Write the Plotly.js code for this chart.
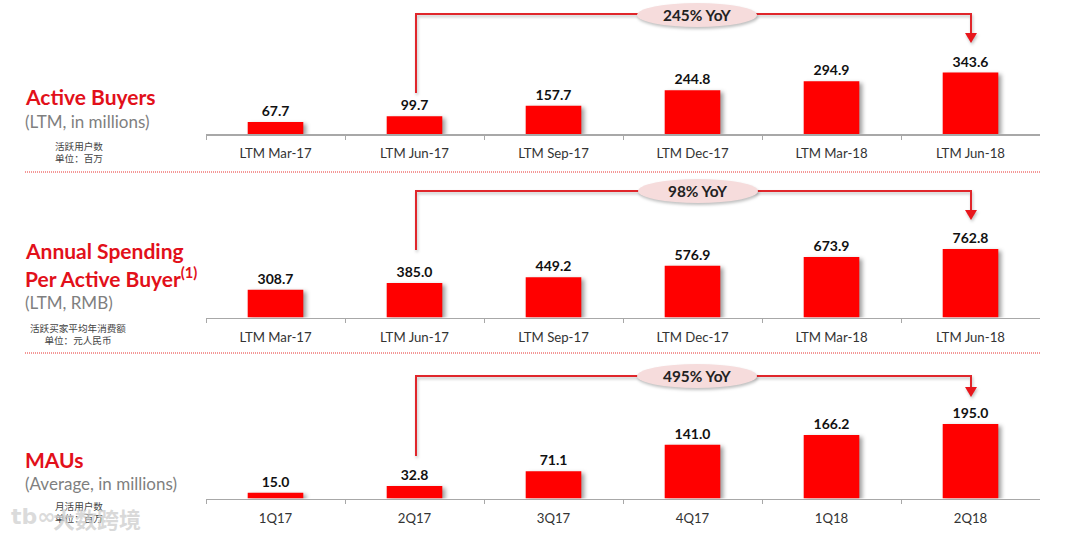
<!DOCTYPE html>
<html><head><meta charset="utf-8">
<script src="https://cdn.plot.ly/plotly-3.0.1.min.js"></script>
<style>
html,body{margin:0;padding:0;background:#fff}
#c{width:1080px;height:538px}
.bars .point path{filter:drop-shadow(3px 2px 2px rgba(0,0,0,.38))}
.shapelayer path:not([style*="dasharray"]){filter:drop-shadow(1px 2px 1.5px rgba(0,0,0,.25))}
</style></head><body><div id="c"></div>
<script>
const ltmLabels=["LTM Mar-17","LTM Jun-17","LTM Sep-17","LTM Dec-17","LTM Mar-18","LTM Jun-18"];
const quarterLabels=["1Q17","2Q17","3Q17","4Q17","1Q18","2Q18"];
const activeBuyers=[67.7,99.7,157.7,244.8,294.9,343.6];
const annualSpending=[308.7,385.0,449.2,576.9,673.9,762.8];
const maus=[15.0,32.8,71.1,141.0,166.2,195.0];
const yoyLabels=["245% YoY","98% YoY","495% YoY"];

const W=1080,H=538,px=x=>x/W,py=y=>1-y/H;
const RED="#ff0000",LINE="#e0262b";
function bar(x,y,n){return {type:'bar',x,y,xaxis:'x'+n,yaxis:'y'+n,width:0.4,
  marker:{color:RED,line:{width:0}},text:y.map(v=>v.toFixed(1)),textposition:'outside',cliponaxis:false,
  textfont:{family:'Lato, sans-serif',size:14,color:'#111',weight:700},hoverinfo:'skip'};}
const data=[bar(ltmLabels,activeBuyers,''),bar(ltmLabels,annualSpending,'2'),bar(quarterLabels,maus,'3')];
function xa(anchor){return {domain:[px(206),px(1040)],anchor,type:'category',showgrid:false,zeroline:false,
  showline:true,linecolor:'#a8a8a8',linewidth:1.5,ticks:'outside',tickson:'boundaries',ticklen:4,tickcolor:'#a8a8a8',tickwidth:1,
  tickfont:{family:'Lato, sans-serif',size:13.2,color:'#333'},ticklabelstandoff:7,fixedrange:true};}
function ya(base,top,scale,anchor){return {domain:[py(base),py(top)],range:[0,(base-top)/scale],visible:false,anchor,fixedrange:true};}
function connector(startY,topY,tipY,cy,cx){
  const s=[];
  s.push({type:'path',xref:'paper',yref:'paper',path:`M${px(416)},${py(startY)} L${px(416)},${py(topY)} L${px(971)},${py(topY)} L${px(971)},${py(tipY-9)}`,line:{color:LINE,width:2},fillcolor:'rgba(0,0,0,0)'});
  s.push({type:'path',xref:'paper',yref:'paper',path:`M${px(965)},${py(tipY-10)} L${px(977)},${py(tipY-10)} L${px(971)},${py(tipY)} Z`,fillcolor:'#e8161c',line:{width:0}});
  s.push({type:'circle',xref:'paper',yref:'paper',x0:px(cx-60),x1:px(cx+60),y0:py(cy+12),y1:py(cy-12),fillcolor:'#f6dcdc',line:{width:0}});
  return s;
}
function ann(x,y,text,size,color,family,align){return {xref:'paper',yref:'paper',x:px(x-2.5),y:py(y),text,showarrow:false,xanchor:'left',yanchor:'middle',align:align||'left',
  font:{family:family||'Lato, sans-serif',size,color}};}
const TITLE='#e2101a',SUB='#7f7f7f',CN='Noto Sans CJK SC, sans-serif',CC='#444';
const annotations=[
 ann(25,96,'<b>Active Buyers</b>',21,TITLE),
 ann(25,121,'(LTM, in millions)',17,SUB),
 ann(55,152,'活跃用户数<br>单位：百万',9.6,CC,CN),
 ann(25,250,'<b>Annual Spending</b>',21,TITLE),
 ann(25,277,'<b>Per Active Buyer<sup>(1)</sup></b>',21,TITLE),
 ann(25,302,'(LTM, RMB)',17,SUB),
 ann(30,334,'活跃买家平均年消费额<br>单位：元人民币',9.6,CC,CN,'center'),
 ann(25,459,'<b>MAUs</b>',21,TITLE),
 ann(25,483,'(Average, in millions)',17,SUB),
 ann(55,512,'月活用户数<br>单位：百万',9.6,CC,CN),
 ann(53,518,'<b>大数跨境</b>',22,'rgba(205,205,205,.75)',CN),
 ann(11,516,'<b>tb∞</b>',22,'rgba(210,210,210,.8)','DejaVu Sans'),
];
[[697,15,0],[698,191,1],[697,376,2]].forEach(([x,y,i])=>annotations.push(Object.assign(ann(x,y,'<b>'+yoyLabels[i]+'</b>',15.4,'#222'),{x:px(x),xanchor:'center'})));
const shapes=[
 ...connector(93,14,43,15,697),
 ...connector(250,191,220,191,698),
 ...connector(456,376,397,376,697),
 {type:'line',xref:'paper',yref:'paper',x0:px(25),x1:px(1040),y0:py(172),y1:py(172),line:{color:'#e8302f',width:1,dash:'1px,1px'}},
 {type:'line',xref:'paper',yref:'paper',x0:px(25),x1:px(1040),y0:py(353),y1:py(353),line:{color:'#e8302f',width:1,dash:'1px,1px'}},
];
const layout={width:W,height:H,margin:{l:0,r:0,t:0,b:0},paper_bgcolor:'#fff',plot_bgcolor:'#fff',showlegend:false,
 xaxis:xa('y'),yaxis:ya(134,60,61.5/343.6,'x'),
 xaxis2:xa('y2'),yaxis2:ya(317.5,240,68.5/762.8,'x2'),
 xaxis3:xa('y3'),yaxis3:ya(498.5,415,74.5/195,'x3'),
 shapes,annotations};
Plotly.newPlot('c',data,layout,{displayModeBar:false,staticPlot:true});
</script></body></html>
